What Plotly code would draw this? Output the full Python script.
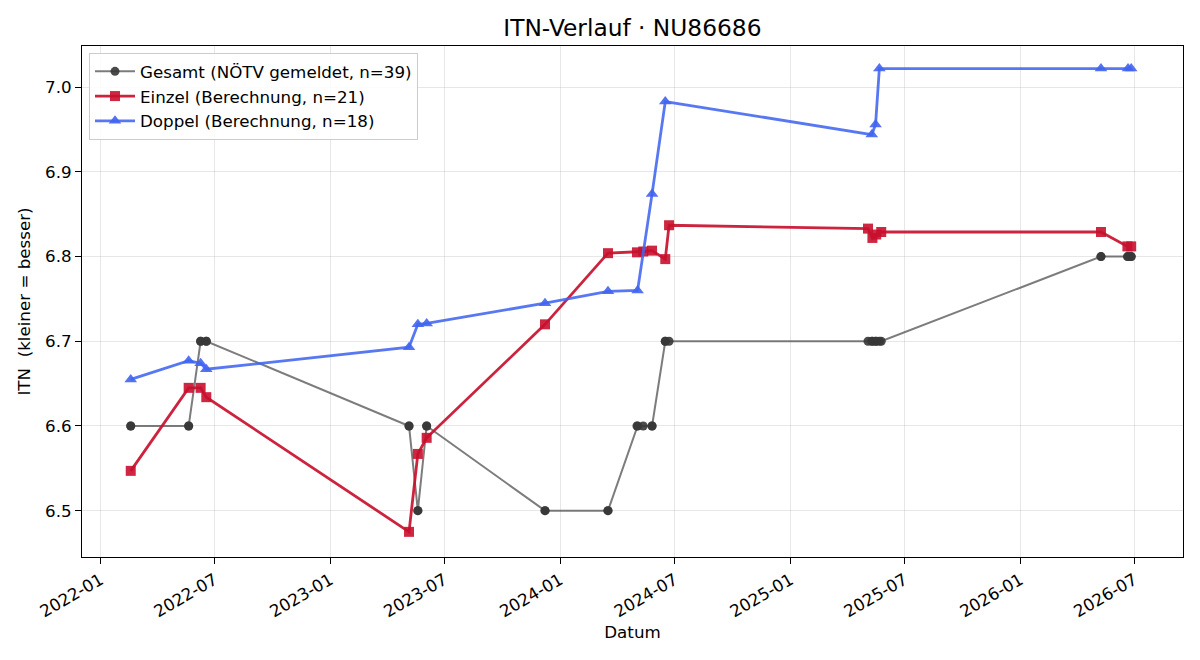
import plotly.graph_objects as go

# ---- data ----
einzel_dates = ["2022-02-18", "2022-05-21", "2022-06-09", "2022-06-18",
                "2023-05-06", "2023-05-20", "2023-06-03", "2023-12-08",
                "2024-03-17", "2024-05-02", "2024-05-12", "2024-05-26",
                "2024-06-16", "2024-06-22",
                "2025-05-04", "2025-05-11", "2025-05-17", "2025-05-25",
                "2026-05-09", "2026-06-20", "2026-06-26"]
einzel_values = [6.547, 6.645, 6.645, 6.634,
                 6.475, 6.567, 6.586, 6.720,
                 6.804, 6.805, 6.806, 6.807,
                 6.797, 6.837,
                 6.833, 6.822, 6.826, 6.829,
                 6.829, 6.812, 6.812]

doppel_dates = ["2022-02-18", "2022-05-21", "2022-06-09", "2022-06-18",
                "2023-05-06", "2023-05-20", "2023-06-03", "2023-12-08",
                "2024-03-17", "2024-05-03", "2024-05-26", "2024-06-16",
                "2025-05-10", "2025-05-16", "2025-05-22",
                "2026-05-09", "2026-06-21", "2026-06-26"]
doppel_values = [6.655, 6.677, 6.674, 6.667,
                 6.693, 6.720, 6.721, 6.745,
                 6.759, 6.760, 6.874, 6.983,
                 6.944, 6.956, 7.022,
                 7.022, 7.022, 7.022]

gesamt_dates = ["2022-02-18", "2022-02-18", "2022-05-21", "2022-05-21",
                "2022-06-09", "2022-06-09", "2022-06-18", "2022-06-18",
                "2023-05-06", "2023-05-06", "2023-05-20", "2023-05-20",
                "2023-06-03", "2023-06-03", "2023-12-08", "2023-12-08",
                "2024-03-17", "2024-03-17", "2024-05-02", "2024-05-03",
                "2024-05-12", "2024-05-26", "2024-05-26", "2024-06-16",
                "2024-06-16", "2024-06-22",
                "2025-05-04", "2025-05-10", "2025-05-11", "2025-05-16",
                "2025-05-17", "2025-05-22", "2025-05-25",
                "2026-05-09", "2026-05-09", "2026-06-20", "2026-06-21",
                "2026-06-26", "2026-06-26"]
gesamt_values = [6.6, 6.6, 6.6, 6.6,
                 6.7, 6.7, 6.7, 6.7,
                 6.6, 6.6, 6.5, 6.5,
                 6.6, 6.6, 6.5, 6.5,
                 6.5, 6.5, 6.6, 6.6,
                 6.6, 6.6, 6.6, 6.7,
                 6.7, 6.7,
                 6.7, 6.7, 6.7, 6.7,
                 6.7, 6.7, 6.7,
                 6.8, 6.8, 6.8, 6.8,
                 6.8, 6.8]

y_ticks = [6.5, 6.6, 6.7, 6.8, 6.9, 7.0]

FONT = "DejaVu Sans"
FS = 16.7
fig = go.Figure()

fig.add_trace(go.Scatter(
    x=gesamt_dates, y=gesamt_values, mode="lines+markers",
    name="Gesamt (NÖTV gemeldet, n=39)",
    line=dict(color="rgba(80,80,80,0.75)", width=2),
    marker=dict(symbol="circle", size=9, color="rgba(55,55,55,0.9)",
                line=dict(width=0)),
))
fig.add_trace(go.Scatter(
    x=einzel_dates, y=einzel_values, mode="lines+markers",
    name="Einzel (Berechnung, n=21)",
    line=dict(color="rgba(200,16,46,0.92)", width=2.8),
    marker=dict(symbol="square", size=10, color="rgba(200,16,46,0.9)",
                line=dict(width=0)),
))
fig.add_trace(go.Scatter(
    x=doppel_dates, y=doppel_values, mode="lines+markers",
    name="Doppel (Berechnung, n=18)",
    line=dict(color="rgba(65,100,240,0.88)", width=2.8),
    marker=dict(symbol="triangle-up", size=11, color="rgba(65,100,240,0.9)",
                line=dict(width=0)),
))

axis_common = dict(
    showgrid=True, gridcolor="rgba(176,176,176,0.3)", gridwidth=1,
    showline=True, linecolor="black", linewidth=1, mirror=True,
    ticks="outside", ticklen=6, tickcolor="black", tickwidth=1,
    tickfont=dict(family=FONT, size=FS, color="black"),
    zeroline=False,
)

fig.update_layout(
    width=1200, height=660,
    margin=dict(l=82, r=17, t=46, b=103),
    paper_bgcolor="white", plot_bgcolor="white",
    font=dict(family=FONT, size=FS, color="black"),
    title=dict(text="ITN-Verlauf · NU86686", x=0.527, xref="container",
               xanchor="center", y=1 - 28 / 660, yanchor="middle",
               font=dict(family=FONT, size=23.3, color="black")),
    xaxis=dict(
        **axis_common,
        type="date",
        range=["2021-12-02 14:00", "2026-09-16 07:00"],
        tick0="2022-01-01", dtick="M6", tickformat="%Y-%m",
        tickangle=-30,
        title=dict(text="Datum", font=dict(family=FONT, size=FS), standoff=6),
    ),
    yaxis=dict(
        **axis_common,
        range=[6.4453, 7.0486],
        tickvals=y_ticks, tickformat=".1f",
        title=dict(text="ITN  (kleiner = besser)", font=dict(family=FONT, size=FS),
                   standoff=10),
    ),
    legend=dict(
        x=7 / 1101, y=1 - 7 / 511, xanchor="left", yanchor="top",
        bgcolor="rgba(255,255,255,0.85)", bordercolor="#cccccc", borderwidth=1,
        font=dict(family=FONT, size=FS, color="black"),
        itemwidth=40, tracegroupgap=2,
    ),
    showlegend=True,
)

fig.write_html("out.html")
